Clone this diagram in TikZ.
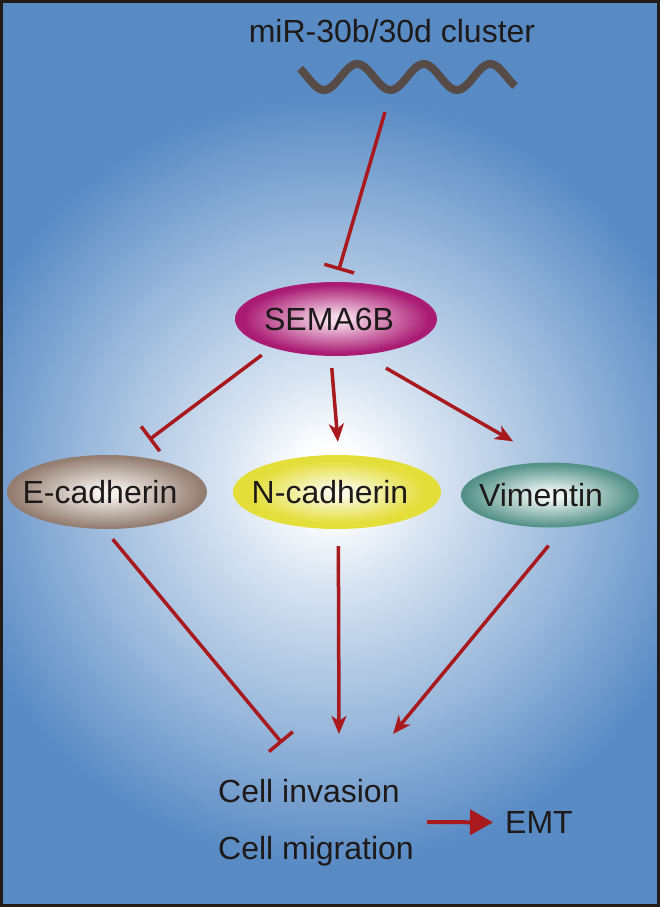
\documentclass[tikz,border=0pt]{standalone}
\usepackage{fontspec}
\setmainfont{Liberation Sans}
\usetikzlibrary{shapes.geometric,arrows.meta}
\definecolor{bgblue}{RGB}{88,138,196}
\definecolor{inkred}{RGB}{168,26,30}
\definecolor{wavec}{RGB}{86,75,70}
\definecolor{framec}{RGB}{34,28,24}
\definecolor{txt}{RGB}{30,26,26}
\definecolor{semaout}{RGB}{170,28,116}
\definecolor{semain}{RGB}{245,215,232}
\definecolor{ecadout}{RGB}{148,126,114}
\definecolor{ecadin}{RGB}{244,240,236}
\definecolor{ncadout}{RGB}{228,222,58}
\definecolor{ncadin}{RGB}{250,250,228}
\definecolor{vimout}{RGB}{84,146,136}
\definecolor{vimin}{RGB}{240,248,246}
\pgfdeclareradialshading{bgsh}{\pgfpoint{0bp}{0bp}}{color(0bp)=(white); color(2bp)=(white); color(6bp)=(bgblue!22!white); color(15bp)=(bgblue!62!white); color(23bp)=(bgblue); color(25bp)=(bgblue); color(50bp)=(bgblue)}
\pgfdeclareradialshading{semash}{\pgfpoint{0bp}{0bp}}{color(0bp)=(semain); color(3bp)=(semain); color(23bp)=(semaout); color(25bp)=(semaout); color(50bp)=(semaout)}
\pgfdeclareradialshading{ecadsh}{\pgfpoint{0bp}{0bp}}{color(0bp)=(ecadin); color(3bp)=(ecadin); color(24bp)=(ecadout); color(25bp)=(ecadout); color(50bp)=(ecadout)}
\pgfdeclareradialshading{ncadsh}{\pgfpoint{0bp}{0bp}}{color(0bp)=(ncadin); color(3bp)=(ncadin); color(21bp)=(ncadout); color(25bp)=(ncadout); color(50bp)=(ncadout)}
\pgfdeclareradialshading{vimsh}{\pgfpoint{0bp}{0bp}}{color(0bp)=(vimin); color(3bp)=(vimin); color(24bp)=(vimout); color(25bp)=(vimout); color(50bp)=(vimout)}
\tikzset{
  ell/.style={ellipse, inner sep=0pt, minimum height=74pt, shade, font=\fontsize{32}{36}\selectfont, text=txt},
  lbl/.style={inner sep=0pt, font=\fontsize{32}{36}\selectfont, text=txt},
  con/.style={draw=inkred, line width=3.5pt},
  act/.style={con, -{Stealth[length=18pt,width=15pt,inset=5pt]}},
  inh/.style={con, -{Bar[width=31pt]}},
  wavy/.style={draw=wavec, line width=8pt},
}
\begin{document}
\begin{tikzpicture}[x=1pt, y=-1pt]
\useasboundingbox (0,0) rectangle (660,907);
% background
\fill[bgblue] (0,0) rectangle (660,907);
\begin{scope}
  \clip (0,0) rectangle (660,907);
  \shade[shading=bgsh] (330,480) circle[radius=420];
\end{scope}
% miRNA wave
\draw[wavy] plot[domain=300:515, samples=90, smooth] (\x, {77+13*cos((\x-324)/66.5*360)});
\coordinate (mir) at (385,112);
% labels
\node[lbl, anchor=base] (title) at (392,43) {miR-30b/30d cluster};
% ellipses
\node[ell, minimum width=202pt, shading=semash] (sema) at (336,319) {\makebox[0pt]{\kern-14pt SEMA6B}};
\node[ell, minimum width=200pt, shading=ecadsh] (ecad) at (107,492) {\makebox[0pt]{\kern-14pt E-cadherin}};
\node[ell, minimum width=208pt, shading=ncadsh] (ncad) at (337,492) {\makebox[0pt]{\kern-14pt N-cadherin}};
\node[ell, minimum width=178pt, minimum height=65pt, shading=vimsh] (vim) at (550,495) {\makebox[0pt]{\kern-18pt Vimentin}};
% bottom texts
\node[lbl, anchor=base west] (inv) at (218,802) {Cell invasion};
\node[lbl, anchor=base west] (mig) at (218,859) {Cell migration};
\node[lbl, anchor=base west] (emt) at (505,833.5) {EMT};
\coordinate (tE) at (282,743);
\coordinate (tN) at (339,734);
\coordinate (tV) at (393,734);
\coordinate (emtfrom) at (427,822);
% connectors
\draw[inh, shorten >=12pt] (mir) -- (sema.91);
\draw[inh, shorten <=12.3pt, shorten >=26.3pt] (sema.204) -- (ecad.60);
\draw[act, shorten <=12pt, shorten >=13pt] (sema.262) -- (ncad.87);
\draw[act, shorten <=26.5pt, shorten >=41.9pt] (sema.307) -- (vim.91);
\draw[inh, shorten <=13pt] (ecad.266) -- (tE);
\draw[act, shorten <=17pt] (ncad.272) -- (tN);
\draw[act, shorten <=23.8pt] (vim.293) -- (tV);
\draw[con, line width=4pt, -{Triangle[length=23pt,width=25pt]}, shorten >=12pt] (emtfrom) -- (emt.west);
% frame
\draw[framec, line width=3pt] (1.5,1.5) rectangle (658.5,905.5);
\end{tikzpicture}
\end{document}
